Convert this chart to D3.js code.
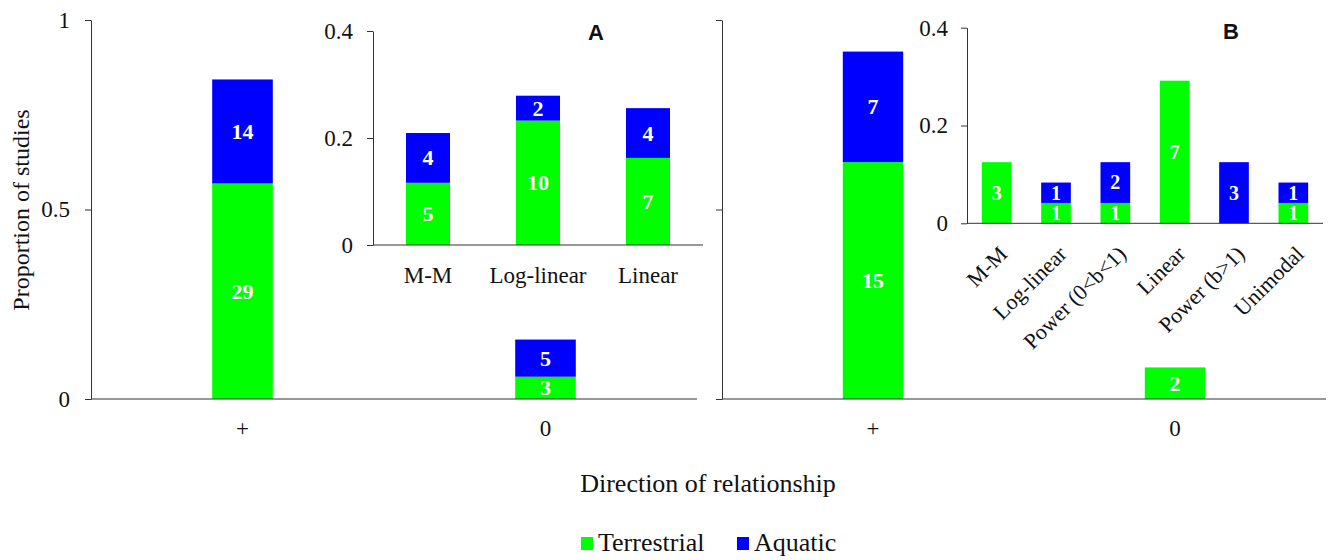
<!DOCTYPE html>
<html lang="en">

<head>
    <meta charset="UTF-8">
    <title>Direction of relationship</title>
    <script src="https://d3js.org/d3.v7.min.js"></script>
    <style>
        body { margin: 0; background: #fff; }
        svg text { fill: #111; font-family: 'Liberation Serif', 'DejaVu Serif', serif; }
        .axis path, .axis line { stroke: #333; }
        .val { fill: #fff; font-weight: bold; text-anchor: middle; }
    </style>
</head>
<body onload='init()'>
    <svg width=1328 height=560></svg>
    <script>
        // main panels: counts by direction of relationship
        var directions = ["+", "0"];
        var aTerrestrial = [29, 3];
        var aAquatic = [14, 5];
        var bTerrestrial = [15, 2];
        var bAquatic = [7, 0];
        var aStudies = 51;
        var bStudies = 24;

        // insets: functional forms of the positive relationships
        var aForms = ["M-M", "Log-linear", "Linear"];
        var aFormTerrestrial = [5, 10, 7];
        var aFormAquatic = [4, 2, 4];
        var aFormStudies = 43;
        var bForms = ["M-M", "Log-linear", "Power (0<b<1)", "Linear", "Power (b>1)", "Unimodal"];
        var bFormTerrestrial = [3, 1, 1, 7, 0, 1];
        var bFormAquatic = [0, 1, 2, 0, 3, 1];
        var bFormStudies = 24;

        var mainTicks = [0, 0.5, 1];
        var insetTicks = [0, 0.2, 0.4];
        var seriesNames = ["Terrestrial", "Aquatic"];
        var colors = ["#00ff00", "#0000ff"];

        var serif = "'Liberation Serif', 'DejaVu Serif', serif";
        var sans = "'Liberation Sans', Arial, sans-serif";
        var svg = d3.select("svg").style("font-family", serif);

        function stackRows(cats, terr, aqua, n) {
            return cats.map(function (c, i) {
                return { cat: c, t: terr[i], a: aqua[i], t0: 0, t1: terr[i] / n, a0: terr[i] / n, a1: (terr[i] + aqua[i]) / n };
            });
        }

        function drawBars(g, rows, x, y, fs) {
            var bar = g.selectAll("g.bar").data(rows).enter().append("g").attr("class", "bar");
            bar.filter(function (d) { return d.t > 0; }).append("rect")
                .attr("x", function (d) { return x(d.cat); }).attr("width", x.bandwidth())
                .attr("y", function (d) { return y(d.t1); }).attr("height", function (d) { return y(d.t0) - y(d.t1); })
                .attr("fill", colors[0]);
            bar.filter(function (d) { return d.a > 0; }).append("rect")
                .attr("x", function (d) { return x(d.cat); }).attr("width", x.bandwidth())
                .attr("y", function (d) { return y(d.a1); }).attr("height", function (d) { return y(d.a0) - y(d.a1); })
                .attr("fill", colors[1]);
            bar.filter(function (d) { return d.t > 0; }).append("text").attr("class", "val")
                .attr("x", function (d) { return x(d.cat) + x.bandwidth() / 2; })
                .attr("y", function (d) { return (y(d.t0) + y(d.t1)) / 2; }).attr("dy", "0.34em")
                .style("font-family", serif).style("font-size", fs + "px")
                .text(function (d) { return d.t; });
            bar.filter(function (d) { return d.a > 0; }).append("text").attr("class", "val")
                .attr("x", function (d) { return x(d.cat) + x.bandwidth() / 2; })
                .attr("y", function (d) { return (y(d.a0) + y(d.a1)) / 2; }).attr("dy", "0.34em")
                .style("font-family", serif).style("font-size", fs + "px")
                .text(function (d) { return d.a; });
        }

        function drawYAxis(g, x, y, ticks, pad, labels) {
            var ax = d3.axisLeft(y).tickValues(ticks).tickSize(6).tickSizeOuter(0).tickPadding(pad).tickFormat(d3.format("~g"));
            var a = g.append("g").attr("class", "axis").attr("transform", "translate(" + x.range()[0] + ",0)").call(ax);
            a.attr("font-family", null);
            a.selectAll("text").style("font-family", serif).style("font-size", "23px");
            if (!labels) a.selectAll("text").remove();
        }

        function drawBaseline(g, x, y) {
            g.append("line").attr("x1", x.range()[0]).attr("x2", x.range()[1])
                .attr("y1", y(0)).attr("y2", y(0)).attr("stroke", "#333");
        }

        function drawXLabels(g, x, y, pad) {
            var ax = d3.axisBottom(x).tickSize(0).tickPadding(pad);
            var a = g.append("g").attr("class", "axis").attr("transform", "translate(0," + y(0) + ")").call(ax);
            a.attr("font-family", null);
            a.select(".domain").remove();
            a.selectAll("text").style("font-family", serif).style("font-size", "23px");
        }

        function init() {
            var y = d3.scaleLinear([0, 1], [399, 20]);

            // panel A
            var xA = d3.scaleBand(directions, [91, 697]).paddingInner(0.8).paddingOuter(0.4);
            var gA = svg.append("g");
            drawBars(gA, stackRows(directions, aTerrestrial, aAquatic, aStudies), xA, y, 22);
            drawBaseline(gA, xA, y);
            drawYAxis(gA, xA, y, mainTicks, 15, true);
            drawXLabels(gA, xA, y, 21);

            // panel B
            var xB = d3.scaleBand(directions, [722, 1326]).paddingInner(0.8).paddingOuter(0.4);
            var gB = svg.append("g");
            drawBars(gB, stackRows(directions, bTerrestrial, bAquatic, bStudies), xB, y, 22);
            drawBaseline(gB, xB, y);
            drawYAxis(gB, xB, y, mainTicks, 15, false);
            drawXLabels(gB, xB, y, 21);

            // inset A
            var xiA = d3.scaleBand(aForms, [373, 703]).paddingInner(0.6).paddingOuter(0.3);
            var yiA = d3.scaleLinear([0, 0.4], [245, 31]);
            var giA = svg.append("g");
            drawBars(giA, stackRows(aForms, aFormTerrestrial, aFormAquatic, aFormStudies), xiA, yiA, 22);
            drawBaseline(giA, xiA, yiA);
            drawYAxis(giA, xiA, yiA, insetTicks, 14, true);
            drawXLabels(giA, xiA, yiA, 22);
            giA.append("text").attr("x", 596).attr("y", 40).attr("text-anchor", "middle")
                .style("font-family", sans).style("font-weight", "bold").style("font-size", "22px").text("A");

            // inset B
            var xiB = d3.scaleBand(bForms, [967, 1323]).paddingInner(0.5).paddingOuter(0.25);
            var yiB = d3.scaleLinear([0, 0.4], [223.3, 27.7]);
            var giB = svg.append("g");
            drawBars(giB, stackRows(bForms, bFormTerrestrial, bFormAquatic, bFormStudies), xiB, yiB, 20);
            drawBaseline(giB, xiB, yiB);
            drawYAxis(giB, xiB, yiB, insetTicks, 13, true);
            giB.append("g").selectAll("text").data(bForms).enter().append("text")
                .attr("transform", function (d) { return "translate(" + (xiB(d) + xiB.bandwidth() / 2 + 12) + "," + (yiB(0) + 32) + ") rotate(-45)"; })
                .attr("text-anchor", "end").style("font-family", serif).style("font-size", "22px").text(function (d) { return d; });
            giB.append("text").attr("x", 1231).attr("y", 39).attr("text-anchor", "middle")
                .style("font-family", sans).style("font-weight", "bold").style("font-size", "22px").text("B");

            // titles
            svg.append("text").attr("transform", "translate(29,210) rotate(-90)").attr("text-anchor", "middle")
                .style("font-family", serif).style("font-size", "24px").text("Proportion of studies");
            svg.append("text").attr("x", 708).attr("y", 492).attr("text-anchor", "middle")
                .style("font-family", serif).style("font-size", "26px").text("Direction of relationship");

            // legend
            var leg = svg.append("g").selectAll("g").data(seriesNames).enter().append("g")
                .attr("transform", function (d, i) { return "translate(" + [581, 737][i] + ",537)"; });
            leg.append("rect").attr("width", 12).attr("height", 13).attr("fill", function (d, i) { return colors[i]; });
            leg.append("text").attr("x", 17).attr("y", 14).style("font-family", serif).style("font-size", "26px").text(function (d) { return d; });
        }
    </script>
</body>

</html>
